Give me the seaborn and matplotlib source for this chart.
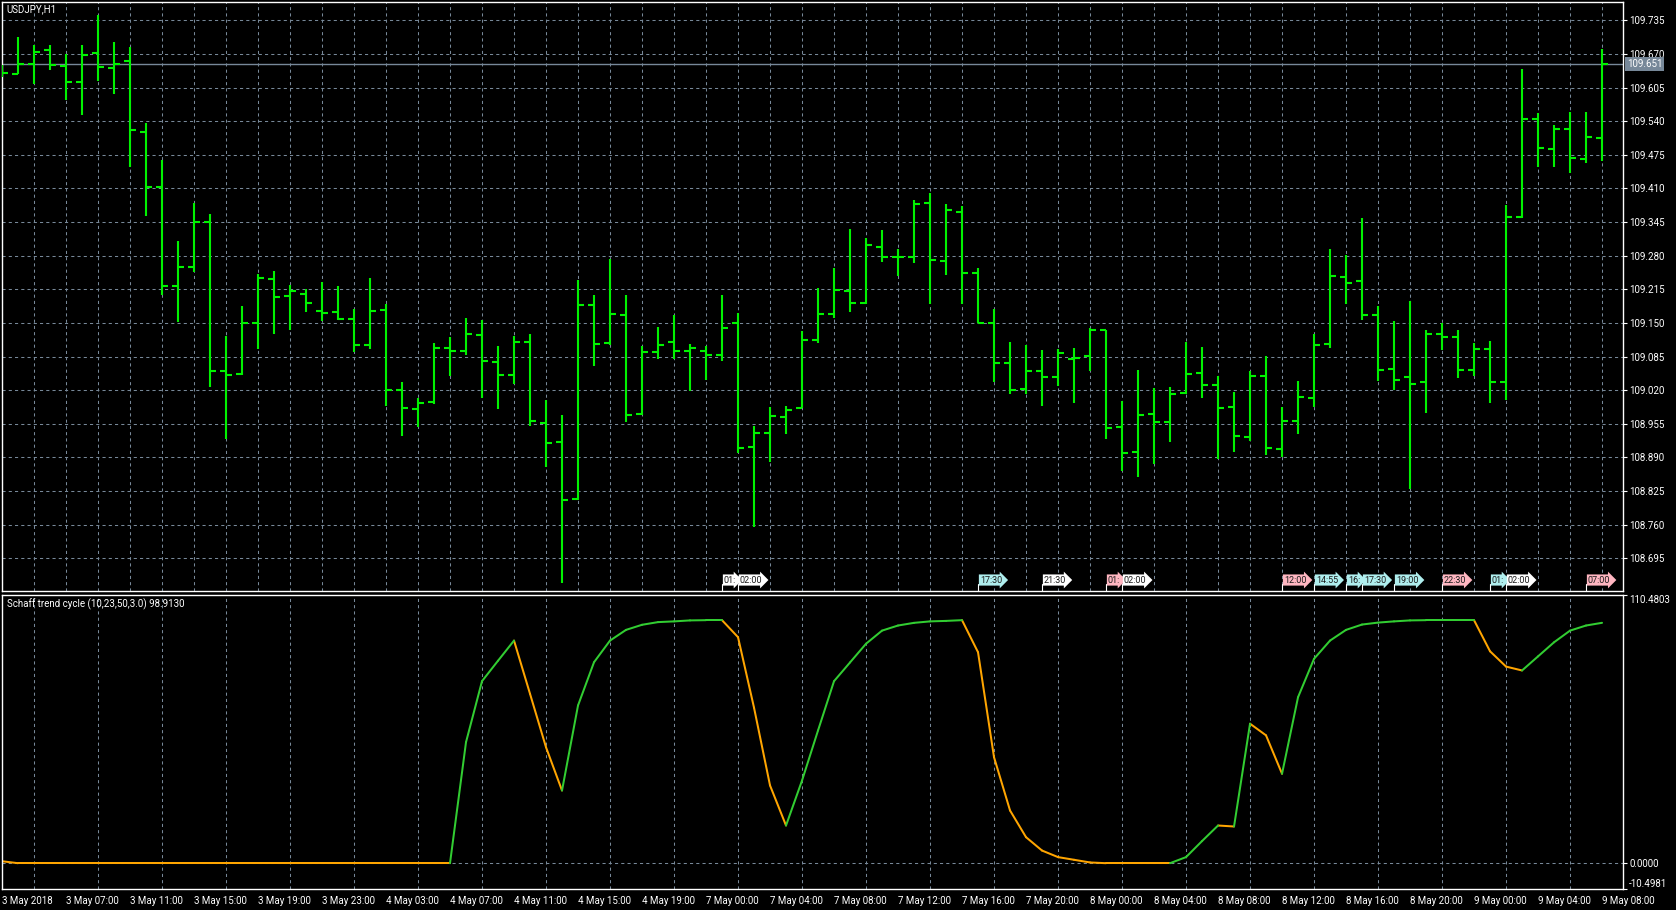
import numpy as np
import pandas as pd
import matplotlib.pyplot as plt
import matplotlib.transforms as mtransforms
import seaborn as sns

# USDJPY H1 bars (open, high, low, close)
opens = [109.640, 109.631, 109.651, 109.677, 109.647, 109.615, 109.672, 109.643, 109.657, 109.520,
         109.412, 109.222, 109.259, 109.345, 109.057, 109.051, 109.149, 109.235, 109.203, 109.206,
         109.173, 109.171, 109.157, 109.107, 109.176, 109.021, 108.984, 108.997, 109.102, 109.095,
         109.126, 109.075, 109.050, 109.114, 108.957, 108.920, 108.810, 109.185, 109.112, 109.166,
         108.974, 109.093, 109.114, 109.095, 109.095, 109.088, 109.149, 108.910, 108.937, 108.968,
         108.986, 109.117, 109.168, 109.212, 109.188, 109.297, 109.278, 109.278, 109.381, 109.270,
         109.364, 109.247, 109.149, 109.073, 109.023, 109.057, 109.046, 109.081, 109.086, 109.137,
         108.949, 108.901, 108.974, 108.958, 109.015, 109.053, 109.030, 108.987, 108.930, 109.048,
         108.907, 108.960, 109.004, 109.109, 109.239, 109.232, 109.166, 109.061, 109.045, 109.036,
         109.129, 109.123, 109.059, 109.099, 109.036, 109.355, 109.544, 109.486, 109.525, 109.467,
         109.508]
highs = [109.648, 109.703, 109.687, 109.688, 109.669, 109.688, 109.745, 109.694, 109.683, 109.536,
         109.465, 109.308, 109.381, 109.360, 109.125, 109.183, 109.245, 109.251, 109.224, 109.215,
         109.230, 109.222, 109.177, 109.237, 109.187, 109.036, 109.005, 109.111, 109.123, 109.160,
         109.155, 109.105, 109.125, 109.128, 109.002, 108.972, 109.233, 109.204, 109.274, 109.204,
         109.105, 109.142, 109.165, 109.109, 109.105, 109.204, 109.169, 108.951, 108.987, 108.989,
         109.134, 109.217, 109.256, 109.331, 109.314, 109.329, 109.292, 109.387, 109.401, 109.379,
         109.377, 109.256, 109.177, 109.113, 109.108, 109.098, 109.099, 109.101, 109.141, 109.137,
         108.999, 109.059, 109.025, 109.027, 109.113, 109.104, 109.048, 109.016, 109.057, 109.086,
         108.987, 109.037, 109.128, 109.293, 109.281, 109.353, 109.183, 109.154, 109.192, 109.136,
         109.149, 109.136, 109.111, 109.115, 109.378, 109.641, 109.556, 109.533, 109.557, 109.558,
         109.680]
lows = [109.625, 109.631, 109.611, 109.638, 109.581, 109.552, 109.618, 109.592, 109.452, 109.357,
        109.205, 109.152, 109.249, 109.027, 108.926, 109.050, 109.099, 109.128, 109.136, 109.172,
        109.154, 109.155, 109.094, 109.100, 108.989, 108.932, 108.949, 108.994, 109.048, 109.089,
        109.005, 108.984, 109.032, 108.950, 108.872, 108.648, 108.808, 109.067, 109.107, 108.958,
        108.973, 109.081, 109.081, 109.019, 109.040, 109.077, 108.899, 108.755, 108.882, 108.936,
        108.985, 109.111, 109.160, 109.172, 109.187, 109.267, 109.241, 109.265, 109.187, 109.243,
        109.187, 109.150, 109.036, 109.013, 109.013, 108.990, 109.028, 108.996, 109.058, 108.925,
        108.863, 108.853, 108.877, 108.919, 109.012, 109.005, 108.888, 108.900, 108.922, 108.894,
        108.891, 108.936, 108.987, 109.102, 109.187, 109.155, 109.037, 109.020, 108.829, 108.976,
        109.098, 109.043, 109.048, 108.996, 109.001, 109.352, 109.452, 109.452, 109.439, 109.460,
        109.464]
closes = [109.633, 109.651, 109.674, 109.649, 109.615, 109.668, 109.645, 109.651, 109.523, 109.412,
          109.222, 109.259, 109.345, 109.057, 109.050, 109.149, 109.237, 109.200, 109.211, 109.189,
          109.170, 109.157, 109.107, 109.174, 109.021, 108.986, 108.996, 109.102, 109.095, 109.128,
          109.077, 109.050, 109.114, 108.961, 108.918, 108.808, 109.185, 109.110, 109.168, 108.973,
          109.093, 109.107, 109.095, 109.102, 109.088, 109.141, 108.908, 108.937, 108.971, 108.982,
          109.117, 109.168, 109.214, 109.189, 109.300, 109.278, 109.278, 109.379, 109.272, 109.369,
          109.247, 109.150, 109.073, 109.021, 109.057, 109.046, 109.091, 109.083, 109.137, 108.947,
          108.899, 108.973, 108.958, 109.013, 109.052, 109.030, 108.985, 108.932, 109.048, 108.909,
          108.960, 109.006, 109.108, 109.241, 109.228, 109.166, 109.059, 109.040, 109.032, 109.128,
          109.123, 109.059, 109.099, 109.036, 109.355, 109.544, 109.488, 109.525, 109.469, 109.510,
          109.651]

# Schaff trend cycle (10,23,50,3.0)
stc = [0.8, 0, 0, 0, 0, 0, 0, 0, 0, 0,
       0, 0, 0, 0, 0, 0, 0, 0, 0, 0,
       0, 0, 0, 0, 0, 0, 0, 0, 0, 49.8,
       74.9, 83.3, 91.6, 69.7, 47.7, 29.9, 64.9, 82.7, 91.6, 96.0,
       98.1, 99.2, 99.5, 99.9, 100, 100, 93.0, 64.0, 32.0, 15.5,
       34.0, 54.6, 74.9, 82.6, 90.3, 95.7, 97.8, 98.9, 99.5, 99.7,
       100, 86.8, 43.6, 21.7, 10.7, 5.2, 2.5, 1.4, 0.3, 0,
       0, 0, 0, 0, 2.5, 9.1, 15.5, 15.1, 57.4, 52.6,
       36.8, 68.3, 84.1, 91.6, 96.0, 98.2, 99.0, 99.5, 99.9, 100,
       100, 100, 100, 87.2, 80.9, 79.3, 85.1, 90.9, 95.7, 97.8,
       98.913]

date_labels = ['3 May 2018', '3 May 07:00', '3 May 11:00', '3 May 15:00', '3 May 19:00',
               '3 May 23:00', '4 May 03:00', '4 May 07:00', '4 May 11:00', '4 May 15:00',
               '4 May 19:00', '7 May 00:00', '7 May 04:00', '7 May 08:00', '7 May 12:00',
               '7 May 16:00', '7 May 20:00', '8 May 00:00', '8 May 04:00', '8 May 08:00',
               '8 May 12:00', '8 May 16:00', '8 May 20:00', '9 May 00:00', '9 May 04:00',
               '9 May 08:00']
price_ticks = [108.695, 108.760, 108.825, 108.890, 108.955, 109.020, 109.085, 109.150, 109.215,
               109.280, 109.345, 109.410, 109.475, 109.540, 109.605, 109.670, 109.735]
stc_ticks = [110.4803, 0.0, -10.4981]
stc_tick_labels = ['110.4803', '0.0000', '-10.4981']
last_price = 109.651

# news event flags along the bottom of the price panel
event_bars = [45, 46, 61, 65, 69, 70, 80, 82, 84, 85, 87, 90, 93, 94, 99]
event_labels = ['01:', '02:00', '17:30', '21:30', '01:', '02:00', '12:00', '14:55', '16:',
                '17:30', '19:00', '22:30', '01:', '02:00', '07:00']
event_kinds = ['w', 'w', 'c', 'w', 'p', 'w', 'p', 'c', 'c', 'c', 'c', 'p', 'c', 'w', 'p']

sns.set_theme(style='dark')
plt.rcParams['font.family'] = ['Roboto', 'DejaVu Sans']

BG = 'black'
GRID = '#778899'
BAR = '#00f200'
UP = '#32cd32'
DOWN = '#ffa500'
kind_colors = {'w': '#ffffff', 'c': '#afeeee', 'p': '#ffb6c1'}

W, H = 1676, 910
fig = plt.figure(figsize=(W / 100, H / 100), dpi=100, facecolor=BG)
ax1 = fig.add_axes([1.5 / W, (H - 591) / H, 1621.5 / W, 589 / H])
ax2 = fig.add_axes([1.5 / W, (H - 888.7) / H, 1621.5 / W, 294 / H])

xmin, xmax = -0.5 / 16, 101.31
grid_kw = dict(color=GRID, linestyle=(0, (3, 3)), linewidth=0.75)

for ax in (ax1, ax2):
    ax.set_facecolor(BG)
    ax.set_xlim(xmin, xmax)
    for s in ax.spines.values():
        s.set_color('white')
        s.set_linewidth(1.0)
    ax.yaxis.tick_right()
    ax.tick_params(axis='y', colors='white', length=3, width=0.8, pad=1.5, labelsize=7)
    ax.set_xticks(range(0, 101, 2), minor=True)
    ax.tick_params(axis='x', which='minor', length=0)
    ax.grid(False)
    ax.grid(True, which='minor', axis='x', **grid_kw)
    ax.set_axisbelow(True)

# price panel
idx = np.arange(len(opens))
ax1.set_ylim(108.6319, 109.7704)
ax1.set_yticks(price_ticks)
ax1.set_yticklabels([f'{p:.3f}' for p in price_ticks])
ax1.grid(True, which='major', axis='y', **grid_kw)
ax1.set_xticks([])
ax1.axhline(last_price, color=GRID, lw=1.0, zorder=1)
ax1.vlines(idx, lows, highs, color=BAR, lw=1.5, zorder=3)
ax1.hlines(opens, idx - 0.375, idx, color=BAR, lw=1.5, zorder=3)
ax1.hlines(closes, idx, idx + 0.375, color=BAR, lw=1.5, zorder=3)

ax1.text(1.0 + 4 / 1621, last_price, f'{last_price:.3f}',
         transform=mtransforms.blended_transform_factory(ax1.transAxes, ax1.transData),
         ha='left', va='center', fontsize=7, color='white', clip_on=False,
         bbox=dict(boxstyle='square,pad=0.18', fc=GRID, ec='none'))

ev_tr = mtransforms.blended_transform_factory(ax1.transData, ax1.transAxes)
for k, (b, lab, kind) in enumerate(zip(event_bars, event_labels, event_kinds)):
    ax1.plot([b, b], [0, 0.012], color='white', lw=0.8, transform=ev_tr, zorder=6)
    ax1.text(b + 0.12, 0.011, lab, transform=ev_tr, ha='left', va='bottom',
             fontsize=6.5, color='#1a1a1a', zorder=7 + k,
             bbox=dict(boxstyle='rarrow,pad=0.12', fc=kind_colors[kind], ec='none'))

fig.text(6 / W, 1 - 9 / H, 'USDJPY,H1', color='white', fontsize=7, ha='left', va='center')

# Schaff trend cycle panel, coloured by direction
trend = []
prev = 'down'
for i in range(1, len(stc)):
    if stc[i] > stc[i - 1]:
        prev = 'up'
    elif stc[i] < stc[i - 1]:
        prev = 'down'
    trend.append(prev)
rows = []
for i in range(1, len(stc)):
    rows.append((i, i - 1, stc[i - 1], trend[i - 1]))
    rows.append((i, i, stc[i], trend[i - 1]))
seg = pd.DataFrame(rows, columns=['seg', 'bar', 'stc', 'trend'])
sns.lineplot(data=seg, x='bar', y='stc', units='seg', estimator=None, hue='trend',
             palette={'up': UP, 'down': DOWN}, legend=False, lw=1.45, ax=ax2, sort=False)

ax2.set_xlim(xmin, xmax)
ax2.set_ylim(-10.4981, 110.4803)
ax2.axhline(0, zorder=1, **grid_kw)
ax2.set_yticks(stc_ticks)
ax2.set_yticklabels(stc_tick_labels)
tl = ax2.get_yticklabels()
tl[0].set_va('top')
tl[2].set_va('bottom')
ax2.set_xticks(range(0, 101, 4))
ax2.set_xticklabels(date_labels, ha='left')
ax2.tick_params(axis='x', which='major', colors='white', length=3, width=0.8, pad=2,
                labelsize=7)
ax2.set_xlabel('')
ax2.set_ylabel('')
ax2.text(5 / 1621, 1 - 9.5 / 294, 'Schaff trend cycle (10,23,50,3.0) 98.9130',
         transform=ax2.transAxes, color='white', fontsize=7, ha='left', va='center')

fig.savefig('out.png', dpi=100, facecolor=BG)
